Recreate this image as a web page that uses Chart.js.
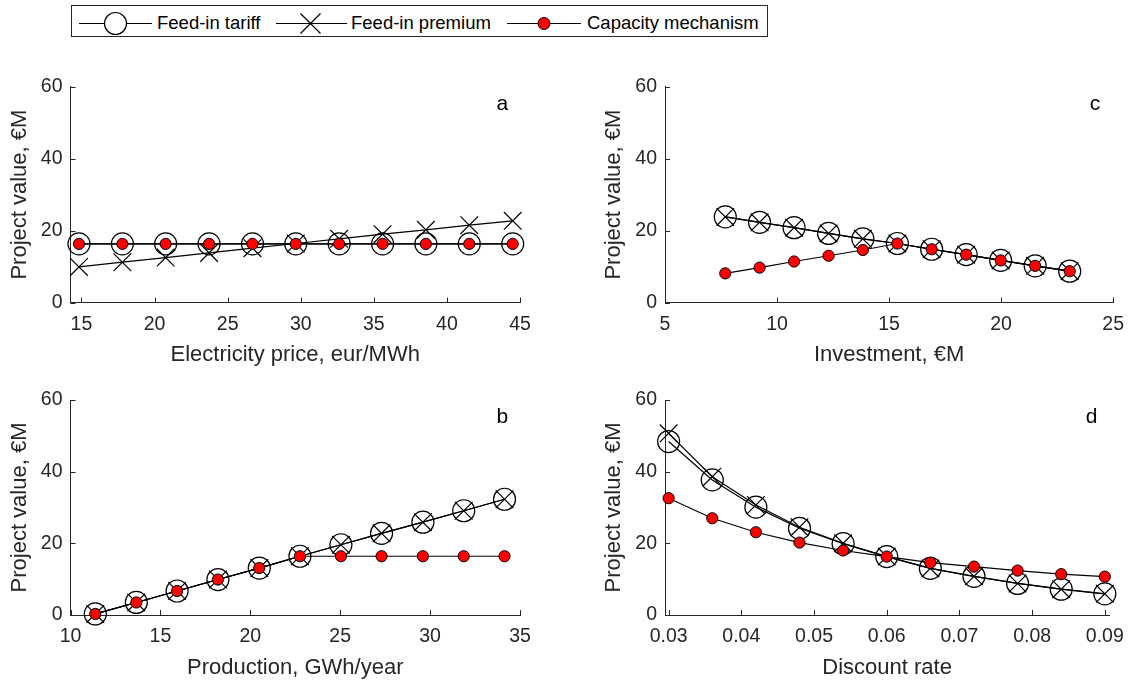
<!doctype html>
<html>
<head>
<meta charset="utf-8">
<script src="https://cdn.jsdelivr.net/npm/chart.js@4.4.1/dist/chart.umd.min.js"></script>
<style>
	body { margin: 0; background: #fff; width: 1134px; height: 684px; position: relative; overflow: hidden; font-family: "Liberation Sans", Arial, sans-serif; }
	canvas { position: absolute; }
	#legendSvg { position: absolute; left: 0; top: 0; }
	.leg { position: absolute; top: 14.3px; font-size: 18.5px; line-height: 18.5px; color: #000; white-space: nowrap; }
</style>
</head>
<body>

<svg id="legendSvg" width="800" height="42">
	<rect x="71.5" y="5.5" width="696" height="31" fill="#fff" stroke="#262626" stroke-width="1"/>
	<line x1="79" y1="23.5" x2="152" y2="23.5" stroke="#000" stroke-width="1.2"/>
	<circle cx="115.5" cy="23.5" r="11" fill="#fff" stroke="#000" stroke-width="1.2"/>
	<line x1="276" y1="23.5" x2="347" y2="23.5" stroke="#000" stroke-width="1.2"/>
	<path d="M300.5 13.5 L320.5 33.5 M300.5 33.5 L320.5 13.5" stroke="#000" stroke-width="1.2"/>
	<line x1="507" y1="23.5" x2="581" y2="23.5" stroke="#000" stroke-width="1.2"/>
	<circle cx="544" cy="23.5" r="6" fill="#ff0000" stroke="#000" stroke-width="1"/>
</svg>
<span class="leg" style="left:157px">Feed-in tariff</span>
<span class="leg" style="left:351px">Feed-in premium</span>
<span class="leg" style="left:587px">Capacity mechanism</span>

<canvas id="chartA" width="567" height="330" style="left:0px;top:40px"></canvas>
<canvas id="chartC" width="567" height="330" style="left:567px;top:40px"></canvas>
<canvas id="chartB" width="567" height="314" style="left:0px;top:370px"></canvas>
<canvas id="chartD" width="567" height="314" style="left:567px;top:370px"></canvas>

<script>
	// shared y axis
	var yTicks = [0, 20, 40, 60];

	// a: electricity price
	var xA = [14.83, 17.8, 20.76, 23.73, 26.7, 29.66, 32.63, 35.6, 38.56, 41.53, 44.5];
	var fitA = [16.3, 16.3, 16.3, 16.3, 16.3, 16.3, 16.3, 16.3, 16.3, 16.3, 16.3];
	var fipA = [9.9, 11.2, 12.5, 13.8, 15.1, 16.4, 17.7, 19.0, 20.2, 21.5, 22.7];
	var capA = [16.3, 16.3, 16.3, 16.3, 16.3, 16.3, 16.3, 16.3, 16.3, 16.3, 16.3];
	var xTicksA = [15, 20, 25, 30, 35, 40, 45];

	// b: production
	var xB = [11.38, 13.66, 15.93, 18.2, 20.5, 22.76, 25.04, 27.3, 29.6, 31.87, 34.14];
	var fitB = [0.3, 3.5, 6.7, 9.9, 13.1, 16.4, 19.6, 22.8, 25.9, 29.1, 32.3];
	var fipB = [0.3, 3.5, 6.7, 9.9, 13.1, 16.4, 19.6, 22.8, 25.9, 29.1, 32.3];
	var capB = [0.3, 3.5, 6.7, 9.9, 13.1, 16.4, 16.4, 16.4, 16.4, 16.4, 16.4];
	var xTicksB = [10, 15, 20, 25, 30, 35];

	// c: investment
	var xC = [7.69, 9.22, 10.76, 12.3, 13.83, 15.37, 16.9, 18.44, 19.98, 21.52, 23.06];
	var fitC = [23.8, 22.3, 20.8, 19.2, 17.7, 16.4, 14.8, 13.3, 11.7, 10.2, 8.7];
	var fipC = [23.8, 22.3, 20.8, 19.2, 17.7, 16.4, 14.8, 13.3, 11.7, 10.2, 8.7];
	var capC = [8.1, 9.7, 11.4, 13.0, 14.6, 16.4, 14.8, 13.3, 11.7, 10.2, 8.7];
	var xTicksC = [5, 10, 15, 20, 25];

	// d: discount rate
	var xD = [0.03, 0.036, 0.042, 0.048, 0.054, 0.06, 0.066, 0.072, 0.078, 0.084, 0.09];
	var fitD = [48.4, 37.7, 30.1, 24.2, 19.9, 16.3, 13.0, 10.8, 8.8, 7.2, 5.9];
	var fipD = [50.7, 38.6, 30.7, 24.5, 20.0, 16.3, 13.0, 10.8, 8.8, 7.2, 5.9];
	var capD = [32.6, 27.0, 23.1, 20.2, 18.0, 16.3, 14.6, 13.5, 12.4, 11.4, 10.7];
	var xTicksD = [0.03, 0.04, 0.05, 0.06, 0.07, 0.08, 0.09];

	Chart.defaults.font.family = '"Liberation Sans", Arial, sans-serif';
	var axisColor = '#262626';

	// MATLAB style inward ticks + panel letter
	var panelDecor = {
		id: 'panelDecor',
		afterDraw: function (chart, args, opts) {
			var ctx = chart.ctx, ca = chart.chartArea;
			var xs = chart.scales.x, ys = chart.scales.y;
			ctx.save();
			ctx.strokeStyle = axisColor;
			ctx.lineWidth = 1;
			ctx.beginPath();
			xs.ticks.forEach(function (t) {
				var px = Math.round(xs.getPixelForValue(t.value)) + 0.5;
				ctx.moveTo(px, ca.bottom);
				ctx.lineTo(px, ca.bottom - 5);
			});
			ys.ticks.forEach(function (t) {
				var py = Math.round(ys.getPixelForValue(t.value)) + 0.5;
				ctx.moveTo(ca.left, py);
				ctx.lineTo(ca.left + 5, py);
			});
			ctx.stroke();
			ctx.fillStyle = '#000';
			ctx.font = '21px "Liberation Sans", Arial, sans-serif';
			ctx.textAlign = 'left';
			ctx.textBaseline = 'alphabetic';
			ctx.fillText(opts.letter, ca.right - 23.5, ca.top + 23.3);
			ctx.restore();
		}
	};

	function pts(xs, ys) {
		return xs.map(function (x, i) { return { x: x, y: ys[i] }; });
	}

	function makePanel(id, p) {
		var datasets = [
			{
				label: 'Feed-in tariff', data: pts(p.x, p.fit), order: 3,
				borderColor: '#000', borderWidth: 1.2, tension: 0, fill: false, clip: false,
				pointStyle: 'circle', pointRadius: 11, pointBorderWidth: 1.2,
				pointBorderColor: '#000', pointBackgroundColor: 'rgba(0,0,0,0)'
			},
			{
				label: 'Feed-in premium', data: pts(p.x, p.fip), order: 2,
				borderColor: '#000', borderWidth: 1.2, tension: 0, fill: false, clip: false,
				pointStyle: 'crossRot', pointRadius: 12.5, pointBorderWidth: 1.2,
				pointBorderColor: '#000', pointBackgroundColor: '#000'
			},
			{
				label: 'Capacity mechanism', data: pts(p.x, p.cap), order: 1,
				borderColor: '#000', borderWidth: 1.2, tension: 0, fill: false, clip: false,
				pointStyle: 'circle', pointRadius: 5.6, pointBorderWidth: 1,
				pointBorderColor: '#000', pointBackgroundColor: '#ff0000'
			}
		];
		return new Chart(document.getElementById(id), {
			type: 'line',
			data: { datasets: datasets },
			plugins: [panelDecor],
			options: {
				responsive: false,
				animation: false,
				events: [],
				layout: { padding: p.pad },
				plugins: {
					legend: { display: false },
					tooltip: { enabled: false },
					panelDecor: { letter: p.letter }
				},
				scales: {
					x: {
						type: 'linear', min: p.xMin, max: p.xMax,
						afterBuildTicks: function (s) { s.ticks = p.xTicks.map(function (v) { return { value: v }; }); },
						afterFit: function (s) { s.height = p.xH; },
						grid: { display: false, drawTicks: false },
						border: { display: true, color: axisColor, width: 1 },
						ticks: {
							color: axisColor, font: { size: 19.5 }, padding: 10, maxRotation: 0, autoSkip: false,
							callback: p.fmt
						},
						title: { display: true, text: p.xTitle, color: axisColor, font: { size: 22 }, padding: { top: 0, bottom: p.titlePad } }
					},
					y: {
						type: 'linear', min: 0, max: 60,
						afterBuildTicks: function (s) { s.ticks = yTicks.map(function (v) { return { value: v }; }); },
						afterFit: function (s) { s.width = 70.5; },
						grid: { display: false, drawTicks: false },
						border: { display: true, color: axisColor, width: 1 },
						ticks: { color: axisColor, font: { size: 19.5 }, padding: 8 },
						title: { display: true, text: 'Project value, €M', color: axisColor, font: { size: 22 }, padding: { top: 6.3, bottom: 0 } }
					}
				}
			}
		});
	}

	var plain = function (v) { return String(v); };

	makePanel('chartA', {
		x: xA, fit: fitA, fip: fipA, cap: capA, xTicks: xTicksA, xMin: 14.25, xMax: 45,
		xTitle: 'Electricity price, eur/MWh', letter: 'a', fmt: plain,
		pad: { top: 46.7, right: 47, left: 0, bottom: 0 }, xH: 67.5, titlePad: 1.5
	});
	makePanel('chartC', {
		x: xC, fit: fitC, fip: fipC, cap: capC, xTicks: xTicksC, xMin: 5, xMax: 25,
		xTitle: 'Investment, €M', letter: 'c', fmt: plain,
		pad: { top: 46.7, right: 19, left: 27.5, bottom: 0 }, xH: 67.5, titlePad: 1.5
	});
	makePanel('chartB', {
		x: xB, fit: fitB, fip: fipB, cap: capB, xTicks: xTicksB, xMin: 10, xMax: 35,
		xTitle: 'Production, GWh/year', letter: 'b', fmt: plain,
		pad: { top: 30, right: 47, left: 0, bottom: 0 }, xH: 69, titlePad: 2.8
	});
	makePanel('chartD', {
		x: xD, fit: fitD, fip: fipD, cap: capD, xTicks: xTicksD, xMin: 0.0295, xMax: 0.0906,
		xTitle: 'Discount rate', letter: 'd', fmt: function (v) { return v.toFixed(2); },
		pad: { top: 30, right: 19, left: 27.5, bottom: 0 }, xH: 69, titlePad: 2.8
	});
</script>
</body>
</html>
